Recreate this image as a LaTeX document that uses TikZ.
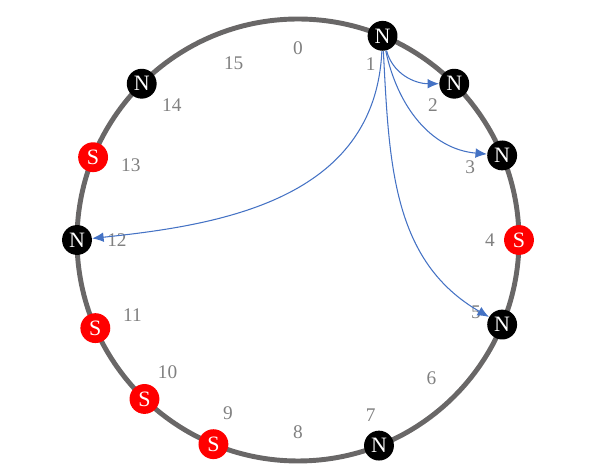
\documentclass[tikz,border=0pt]{standalone}
\usepackage{fontspec}
\setmainfont{Liberation Serif}
\usetikzlibrary{arrows.meta}
\definecolor{ringgray}{RGB}{105,103,103}
\definecolor{lblgray}{RGB}{128,128,128}
\definecolor{arrblue}{RGB}{68,114,196}
\tikzstyle{nnode}=[circle,fill=black,text=white,minimum size=17pt,inner sep=0pt,font=\fontsize{12.5}{13}\selectfont]
\tikzstyle{snode}=[circle,fill=red,text=white,minimum size=17pt,inner sep=0pt,font=\fontsize{12.5}{13}\selectfont]
\tikzstyle{lbl}=[text=lblgray,inner sep=0pt,font=\fontsize{11}{12}\selectfont]
\tikzstyle{arr}=[->,>={Latex[length=6.5pt,width=5.5pt]},draw=arrblue,line width=0.6pt]

\begin{document}
\begin{tikzpicture}[x=0.02cm,y=0.02cm]
        \useasboundingbox (-298,-236) rectangle (302,240);
        \draw[ringgray,line width=2.8pt] (0,0) circle (221);
        \node[nnode] (N1)  at (67.5:221)  {N};
        \node[nnode] (N2)  at (45:221)    {N};
        \node[nnode] (N3)  at (22.5:221)  {N};
        \node[snode] (S4)  at (0:221)     {S};
        \node[nnode] (N5)  at (-22.5:221) {N};
        \node[nnode] (N7)  at (-68.5:221) {N};
        \node[snode] (S9)  at (-112.5:221) {S};
        \node[snode] (S10) at (-134:221)  {S};
        \node[snode] (S11) at (-156.5:221) {S};
        \node[nnode] (N12) at (180:221)   {N};
        \node[snode] (S13) at (158:221)   {S};
        \node[nnode] (N14) at (135:221)   {N};
        \node[lbl] (L0)  at (90:192)     {0};
        \node[lbl] (L1)  at (67.5:190)   {1};
        \node[lbl] (L2)  at (45:191)     {2};
        \node[lbl] (L3)  at (23:187)     {3};
        \node[lbl] (L4)  at (0:192)      {4};
        \node[lbl] (L5)  at (-22:192)    {5};
        \node[lbl] (L6)  at (-46:192)    {6};
        \node[lbl] (L7)  at (-67.5:190)  {7};
        \node[lbl] (L8)  at (-90:192)    {8};
        \node[lbl] (L9)  at (-112:187)   {9};
        \node[lbl] (L10) at (-134.5:186) {10};
        \node[lbl] (L11) at (-155.5:182) {11};
        \node[lbl] (L12) at (180:181)    {12};
        \node[lbl] (L13) at (156:183)    {13};
        \node[lbl] (L14) at (133:185)    {14};
        \node[lbl] (L15) at (110:188)    {15};
        \draw[arr] (N1) to[out=-75,in=180] (N2);
        \draw[arr] (N1) to[out=-78,in=175] (N3);
        \draw[arr] (N1) to[out=-87,in=150] (N5);
        \draw[arr] (N1) .. controls (77,40) and (-78,15) .. (N12);
      \end{tikzpicture}
\end{document}
